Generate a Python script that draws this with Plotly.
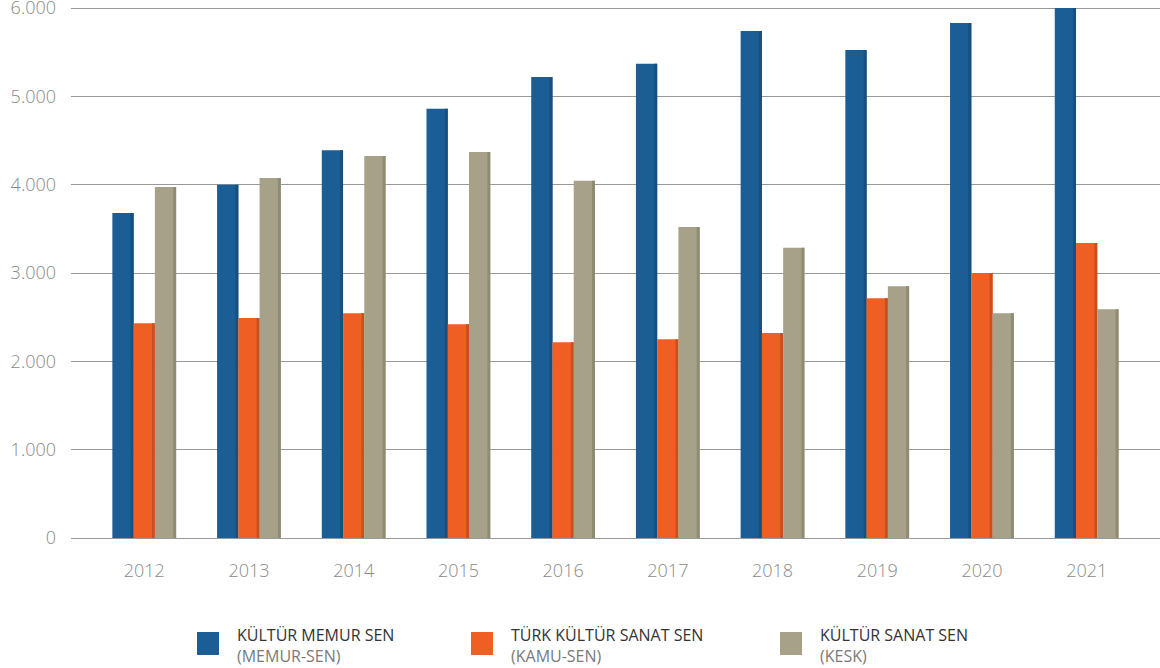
import plotly.graph_objects as go

years = ["2012", "2013", "2014", "2015", "2016", "2017", "2018", "2019", "2020", "2021"]
memur_sen = [3680, 4000, 4390, 4860, 5220, 5370, 5740, 5525, 5830, 6000]
kamu_sen = [2430, 2490, 2545, 2420, 2215, 2250, 2320, 2715, 3000, 3340]
kesk = [3975, 4075, 4325, 4370, 4045, 3520, 3285, 2850, 2545, 2590]
y_ticks = [0, 1000, 2000, 3000, 4000, 5000, 6000]

series = [
    ("KÜLTÜR MEMUR SEN", "(MEMUR-SEN)", memur_sen, "#1b5e96", "#174f7f"),
    ("TÜRK KÜLTÜR SANAT SEN", "(KAMU-SEN)", kamu_sen, "#ef5f23", "#c9501d"),
    ("KÜLTÜR SANAT SEN", "(KESK)", kesk, "#a6a188", "#8f8c74"),
]

W, H = 1160, 668
ML, MR, MT, MB = 71, 0, 6, 130
PW = W - ML - MR
PH = H - MT - MB
Y_TOP = 6000 * PH / 530.0

bar_w = 0.203
edge_w = 0.028
start = -0.305

fig = go.Figure()
for i, (name, sub, vals, col, dark) in enumerate(series):
    off = start + i * bar_w
    fig.add_trace(go.Bar(x=years, y=vals, name=name, marker=dict(color=col, line=dict(width=0)),
                         offset=off, width=bar_w, showlegend=False))
    fig.add_trace(go.Bar(x=years, y=vals, marker=dict(color=dark, line=dict(width=0)),
                         offset=off + bar_w - edge_w, width=edge_w, showlegend=False, hoverinfo="skip"))

def px_x(p):
    return (p - ML) / PW

def px_y(p):
    return (H - MB - p) / PH

legend_x = [197, 471, 780]
shapes = []
annotations = []
for (name, sub, vals, col, dark), lx in zip(series, legend_x):
    shapes.append(dict(type="rect", xref="paper", yref="paper",
                       x0=px_x(lx), x1=px_x(lx + 22), y0=px_y(655), y1=px_y(632),
                       fillcolor=col, line=dict(width=0)))
    annotations.append(dict(xref="paper", yref="paper", x=px_x(lx + 38), y=px_y(645),
                            xanchor="left", yanchor="middle", align="left", showarrow=False,
                            text=f"{name}<br><span style='color:#7a7a7a'>{sub}</span>",
                            font=dict(family="Open Sans", size=16, color="#333333")))

tick_font = dict(family="Open Sans", size=18, color="#8a8a8a", weight=300)

fig.update_layout(
    width=W, height=H,
    margin=dict(l=ML, r=MR, t=MT, b=MB),
    paper_bgcolor="white", plot_bgcolor="white",
    barmode="overlay",
    showlegend=False,
    separators=",.",
    font=dict(family="Open Sans", color="#8a8a8a"),
    shapes=shapes,
    annotations=annotations,
    xaxis=dict(type="category", range=[-0.7, 9.7], showgrid=False, showline=True,
               linecolor="#999999", linewidth=1, ticks="", ticklabelstandoff=16,
               automargin=False, tickfont=tick_font),
    yaxis=dict(range=[0, Y_TOP], tickvals=y_ticks,
               tickformat=",d", showgrid=True, gridcolor="#999999", gridwidth=1,
               zeroline=False, ticks="", ticklabelstandoff=14, automargin=False,
               ticklabeloverflow="allow", tickfont=tick_font),
)

fig.write_html("out.html", config={"displayModeBar": False},
               post_script="document.body.style.margin='0';")
